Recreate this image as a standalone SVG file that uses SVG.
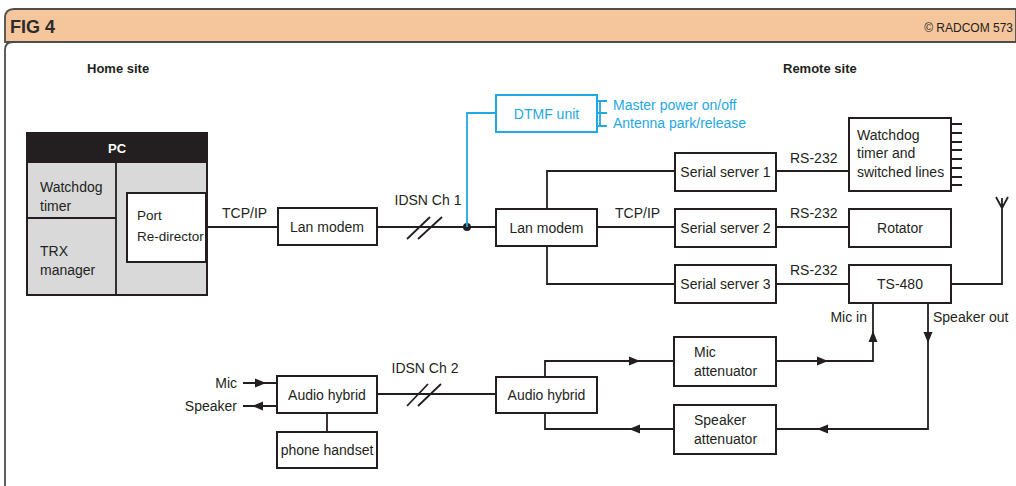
<svg xmlns="http://www.w3.org/2000/svg" xmlns:xlink="http://www.w3.org/1999/xlink" width="1016" height="486" viewBox="0 0 1016 486">
<style>
text{font-family:"Liberation Sans",Arial,sans-serif;font-size:14px;fill:#231f20}
.b{font-weight:bold}
.c{text-anchor:middle}
.e{text-anchor:end}
.box{fill:#fff;stroke:#231f20;stroke-width:2}
.ln{fill:none;stroke:#231f20;stroke-width:1.8}
.blue{fill:none;stroke:#1fa8e1;stroke-width:1.8}
.bt{fill:#1fa8e1}
.frame{stroke:#4d4d4d;stroke-width:1.8}
</style>
<defs>
<path id="ah" d="M0,0 L-11,-4.5 L-11,4.5 Z" fill="#231f20"/>
</defs>
<rect width="1016" height="486" fill="#fff"/>
<g id="frame">
<path d="M1016,9 H14 Q5,9 5,18 V42 H1016 Z" fill="#f5c59c" class="frame"/>
<path d="M5,486 V50 Q5,42 13,42" fill="none" class="frame"/>
<text x="10" y="33" style="font-size:18px;font-weight:bold;fill:#2b2b2b">FIG 4</text>
<text x="1013" y="32" class="e" style="font-size:12px">© RADCOM 573</text>
<text x="87" y="73" class="b" style="font-size:13px">Home site</text>
<text x="783" y="73" class="b" style="font-size:13px">Remote site</text>
</g>
<g id="connectors">
<path class="ln" d="M116,211 H127 M116,246 H127"/>
<path class="ln" d="M206,227 H278"/>
<path class="ln" d="M377,227 H496"/>
<path class="ln" d="M407,239 L430,217 M418,239 L442,217"/>
<circle cx="467" cy="227" r="4" fill="#231f20"/>
<path class="blue" d="M467,227 V113 H496"/>
<path class="blue" d="M597,101 H607 M597,113 H607 M597,126 H607 M600,101 V126"/>
<path class="ln" d="M547,209 V171 H675 M597,227 H675 M547,246 V284 H675"/>
<path class="ln" d="M776,171 H849 M776,227 H849 M776,284 H849"/>
<path class="ln" d="M951,124 H962 M951,133 H962 M951,142 H962 M951,150 H962 M951,159 H962 M951,168 H962 M951,177 H962 M951,185 H962"/>
<path class="ln" d="M951,284 H1002 V198 M996,197 L1002,208 L1008,197"/>
<path class="ln" d="M873,302 V361 H776 M928,302 V429 H776"/>
<path class="ln" d="M545,377 V361 H674 M545,413 V429 H674"/>
<path class="ln" d="M377,394 H496"/>
<path class="ln" d="M407,406 L428,384 M418,406 L441,384"/>
<path class="ln" d="M327,413 V432"/>
<path class="ln" d="M243,383 H277 M243,406 H277"/>
<use xlink:href="#ah" transform="translate(266,383)"/>
<use xlink:href="#ah" transform="translate(252,406) rotate(180)"/>
<use xlink:href="#ah" transform="translate(640,361)"/>
<use xlink:href="#ah" transform="translate(828,361)"/>
<use xlink:href="#ah" transform="translate(873,331) rotate(-90)"/>
<use xlink:href="#ah" transform="translate(928,343) rotate(90)"/>
<use xlink:href="#ah" transform="translate(817,429) rotate(180)"/>
<use xlink:href="#ah" transform="translate(629,429) rotate(180)"/>
<text x="222" y="218">TCP/IP</text>
<text x="428" y="205" class="c">IDSN Ch 1</text>
<text x="615" y="218">TCP/IP</text>
<text x="790" y="163">RS-232</text>
<text x="790" y="218">RS-232</text>
<text x="790" y="275">RS-232</text>
<text x="425" y="373" class="c">IDSN Ch 2</text>
<text x="237" y="388" class="e">Mic</text>
<text x="237" y="411" class="e">Speaker</text>
<text x="867" y="322" class="e">Mic in</text>
<text x="933" y="322">Speaker out</text>
<text x="613" y="110" class="bt">Master power on/off</text>
<text x="613" y="128" class="bt">Antenna park/release</text>
</g>
<g id="pc">
<rect x="27" y="133" width="180" height="162" fill="#d9d9d9" stroke="#231f20" stroke-width="2"/>
<rect x="27" y="133" width="180" height="30" fill="#231f20"/>
<path class="ln" d="M116,163 V295 M27,218 H116"/>
<text x="117" y="153" class="b c" style="fill:#fff;font-size:13px">PC</text>
<text x="40" y="192">Watchdog</text>
<text x="40" y="211">timer</text>
<text x="40" y="256">TRX</text>
<text x="40" y="275">manager</text>
</g>
<g id="port-redirector">
<rect x="127" y="193" width="79" height="69" class="box"/>
<text x="137" y="220" style="font-size:13.5px">Port</text>
<text x="137" y="241" style="font-size:13.5px">Re-director</text>
</g>
<g id="lan-modem-home">
<rect x="278" y="208" width="99" height="37" class="box"/>
<text x="327" y="232" class="c">Lan modem</text>
</g>
<g id="dtmf-unit">
<rect x="496" y="95" width="101" height="37" fill="#fff" stroke="#1fa8e1" stroke-width="2"/>
<text x="546.5" y="119" class="c bt">DTMF unit</text>
</g>
<g id="lan-modem-remote">
<rect x="496" y="209" width="101" height="37" class="box"/>
<text x="546.5" y="233" class="c">Lan modem</text>
</g>
<g id="serial-server-1">
<rect x="675" y="153" width="101" height="38" class="box"/>
<text x="725.5" y="177" class="c">Serial server 1</text>
</g>
<g id="serial-server-2">
<rect x="675" y="209" width="101" height="38" class="box"/>
<text x="725.5" y="233" class="c">Serial server 2</text>
</g>
<g id="serial-server-3">
<rect x="675" y="265" width="101" height="38" class="box"/>
<text x="725.5" y="289" class="c">Serial server 3</text>
</g>
<g id="watchdog">
<rect x="849" y="118" width="102" height="73" class="box"/>
<text x="857" y="140">Watchdog</text>
<text x="857" y="158">timer and</text>
<text x="857" y="177">switched lines</text>
</g>
<g id="rotator">
<rect x="849" y="209" width="102" height="38" class="box"/>
<text x="900" y="233" class="c">Rotator</text>
</g>
<g id="ts-480">
<rect x="849" y="265" width="102" height="38" class="box"/>
<text x="900" y="289" class="c">TS-480</text>
</g>
<g id="mic-attenuator">
<rect x="674" y="337" width="102" height="49" class="box"/>
<text x="694" y="357">Mic</text>
<text x="694" y="376">attenuator</text>
</g>
<g id="speaker-attenuator">
<rect x="674" y="405" width="102" height="49" class="box"/>
<text x="694" y="425">Speaker</text>
<text x="694" y="444">attenuator</text>
</g>
<g id="audio-hybrid-remote">
<rect x="496" y="377" width="101" height="36" class="box"/>
<text x="546.5" y="400" class="c">Audio hybrid</text>
</g>
<g id="audio-hybrid-home">
<rect x="277" y="376" width="100" height="37" class="box"/>
<text x="327" y="399.5" class="c">Audio hybrid</text>
</g>
<g id="phone-handset">
<rect x="277" y="432" width="100" height="36" class="box"/>
<text x="327" y="455" class="c">phone handset</text>
</g>
</svg>
